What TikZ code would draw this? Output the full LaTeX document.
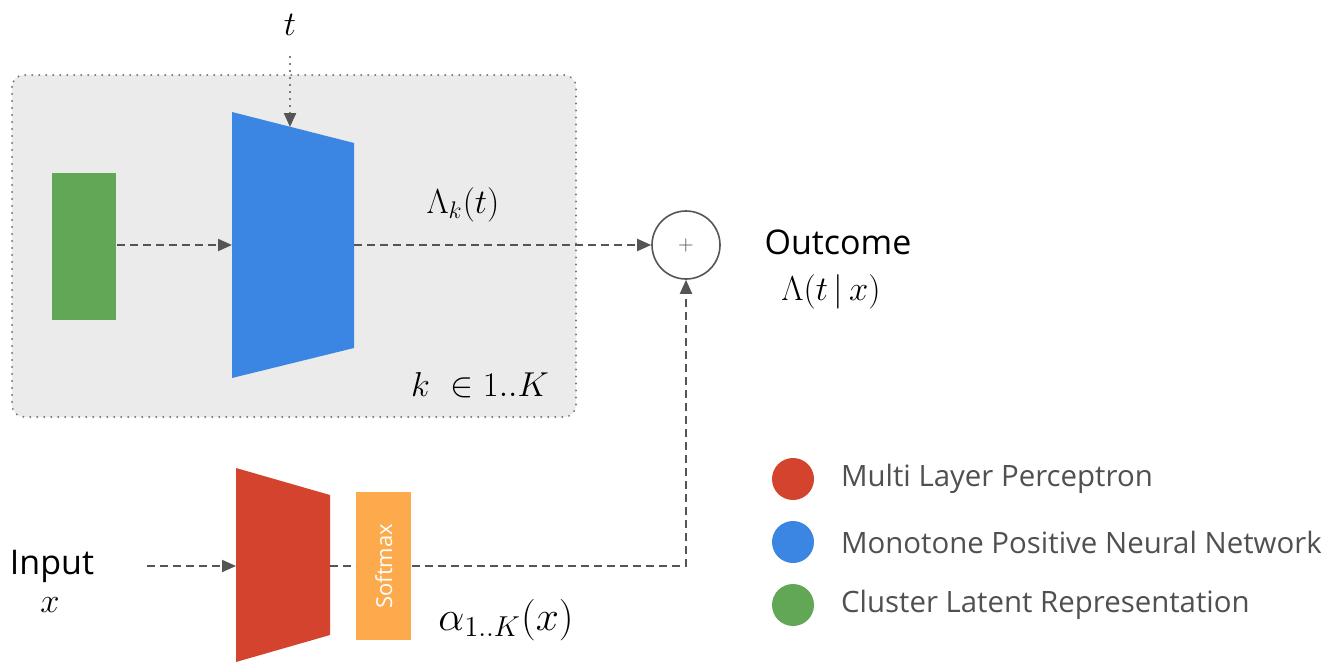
\documentclass[tikz,border=0pt]{standalone}
\usepackage{fontspec}
\newfontfamily\sansf{Open Sans}
\usetikzlibrary{arrows.meta}
\definecolor{boxgray}{HTML}{EBEBEB}
\definecolor{dotgray}{HTML}{7A7A7A}
\definecolor{arrgray}{HTML}{555555}
\definecolor{mlpred}{HTML}{D3432E}
\definecolor{mpnnblue}{HTML}{3A86E2}
\definecolor{latgreen}{HTML}{62A755}
\definecolor{softorange}{HTML}{FDAA4D}
\definecolor{legtext}{HTML}{505050}
\tikzset{
  conn/.style={draw=arrgray, line width=1pt, dash pattern=on 4pt off 2.5pt},
  arr/.style={-{Triangle[length=7pt,width=6pt]}},
  dotconn/.style={draw=arrgray, line width=1.1pt, line cap=round, dash pattern=on 0pt off 3.5pt},
  legdot/.style={circle, minimum size=21pt, inner sep=0pt},
  legtxt/.style={anchor=west, text=legtext, font=\sansf\fontsize{14.7}{18}\selectfont},
  mathlbl/.style={inner sep=0pt},
}
\begin{document}
\begin{tikzpicture}[x=0.5pt,y=-0.5pt]
\useasboundingbox (0,0) rectangle (1342,664);
% cluster box
\draw[fill=boxgray, draw=dotgray, line width=1.1pt, line cap=round, dash pattern=on 0pt off 3.5pt, rounded corners=6pt] (12,75) rectangle (576,417);
% latent representation
\node[fill=latgreen, minimum width=32pt, minimum height=73.5pt, inner sep=0pt, anchor=north west] (lat) at (52,173) {};
% monotone network
\fill[mpnnblue] (232,112) -- (354,143) -- (354,348) -- (232,378) -- cycle;
\coordinate (mpnnin) at (232,245);
\coordinate (mpnnout) at (354,245);
\coordinate (mpnntop) at (290,127);
% t input
\node[mathlbl, font=\fontsize{19}{22}\selectfont] (t) at (290,25) {$t$};
\coordinate (tstart) at (290,57);
\draw[dotconn, arr] (tstart) -- (mpnntop);
\draw[conn, arr] (lat.east |- mpnnin) -- (mpnnin);
% sum
\node[circle, draw=arrgray, line width=0.8pt, minimum size=34pt, inner sep=0pt, text=arrgray, font=\fontsize{10}{11}\selectfont] (sum) at (686,245) {+};
\draw[conn, arr] (mpnnout) -- (sum.west);
\node[mathlbl, font=\fontsize{17}{20}\selectfont] (lamk) at (463,205) {$\Lambda_k(t)$};
\node[mathlbl, font=\fontsize{18}{22}\selectfont] (kin) at (480,385) {$k\ \in 1..K$};
% outcome
\node[inner sep=0pt, font=\sansf\fontsize{17}{20}\selectfont] (outc) at (838,242) {Outcome};
\node[mathlbl, font=\fontsize{16.5}{20}\selectfont] (lam) at (831,292) {$\Lambda(t\,|\,x)$};
% MLP
\fill[mlpred] (236,468) -- (330,495) -- (330,635) -- (236,662) -- cycle;
\coordinate (mlpin) at (236,566);
\coordinate (mlpout) at (330,566);
\node[fill=softorange, minimum width=27.5pt, minimum height=74pt, inner sep=0pt, anchor=north west] (soft) at (356,492) {};
\node[rotate=90, text=white, inner sep=0pt, font=\sansf\fontsize{11}{13}\selectfont] (softlbl) at (soft.center) {Softmax};
% input
\node[inner sep=0pt, font=\sansf\fontsize{17}{20}\selectfont] (inp) at (52,566) {Input};
\node[mathlbl, font=\fontsize{18}{22}\selectfont] (xin) at (50,605) {$x$};
\coordinate (instart) at (147,566);
\draw[conn, arr] (instart) -- (mlpin);
\draw[conn] (mlpout) -- (soft.west |- mlpout);
\draw[conn, arr] (soft.east |- mlpout) -| (sum.south);
\node[mathlbl, font=\fontsize{21}{24}\selectfont] (alpha) at (506,620) {$\alpha_{1..K}(x)$};
% legend
\node[legdot, fill=mlpred] (l1) at (793,479) {};
\node[legdot, fill=mpnnblue] (l2) at (793,542) {};
\node[legdot, fill=latgreen] (l3) at (793,605) {};
\node[legtxt] (t1) at (834,479) {Multi Layer Perceptron};
\node[legtxt] (t2) at (834,542) {Monotone Positive Neural Network};
\node[legtxt] (t3) at (834,605) {Cluster Latent Representation};
\end{tikzpicture}
\end{document}
